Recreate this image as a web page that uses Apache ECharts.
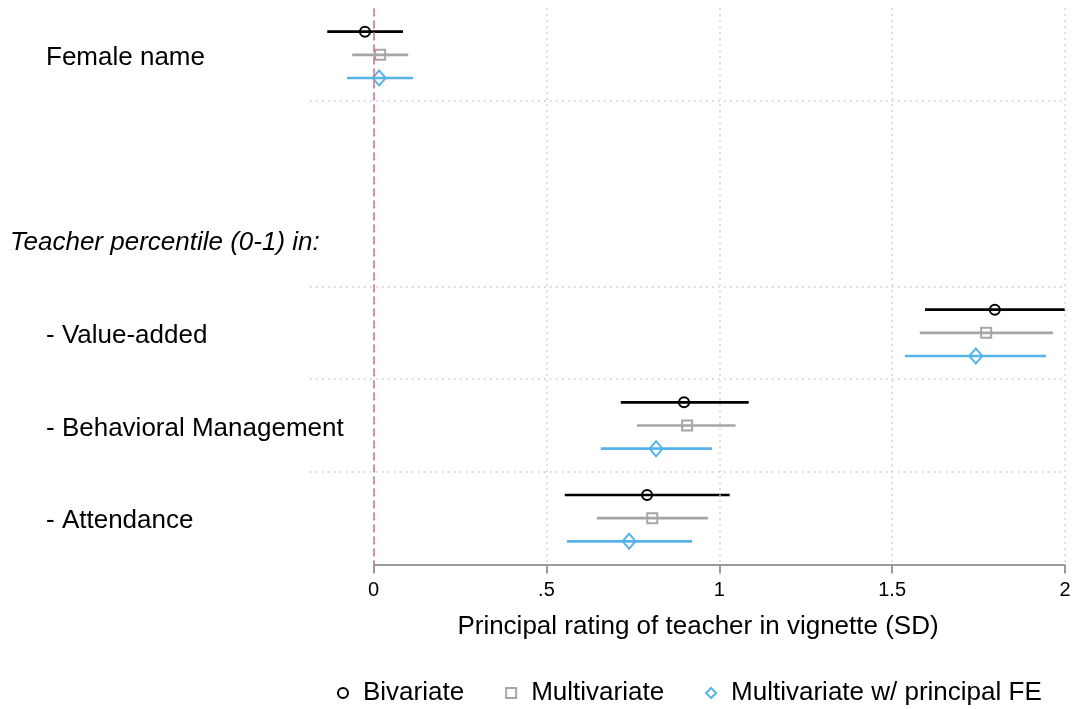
<!DOCTYPE html>
<html>
<head>
<meta charset="utf-8">
<script src="https://cdn.jsdelivr.net/npm/echarts@6/dist/echarts.min.js"></script>
<style>
  html, body { margin: 0; padding: 0; background: #fff; }
  #main { width: 1078px; height: 709px; }
</style>
</head>
<body>
<div id="main"></div>
<script>
// row labels, top to bottom (row 2 is a group header)
const rowLabels = ['Female name', '', 'Teacher percentile (0-1) in:', '- Value-added', '- Behavioral Management', '- Attendance'];
const headerRow = 2;
// rows that carry coefficients
const coefRows = [0, 3, 4, 5];
const xTicks = [0, 0.5, 1, 1.5, 2];
const gridRows = [1, 3, 4, 5];
const seriesNames = ['Bivariate', 'Multivariate', 'Multivariate w/ principal FE'];

// estimates and 95% CI, same order as coefRows
const biPoint = [-0.025, 1.797, 0.898, 0.791];
const biLow   = [-0.134, 1.595, 0.715, 0.553];
const biHigh  = [ 0.085, 2.000, 1.085, 1.030];

const mvPoint = [ 0.019, 1.772, 0.907, 0.806];
const mvLow   = [-0.062, 1.580, 0.762, 0.646];
const mvHigh  = [ 0.100, 1.965, 1.047, 0.967];

const fePoint = [ 0.016, 1.742, 0.817, 0.739];
const feLow   = [-0.077, 1.537, 0.657, 0.559];
const feHigh  = [ 0.114, 1.945, 0.979, 0.921];

let myChart = echarts.init(document.getElementById('main'));

const models = [
  { name: seriesNames[0], point: biPoint, low: biLow, high: biHigh, color: '#000000', symbol: 'circle', size: 10 },
  { name: seriesNames[1], point: mvPoint, low: mvLow, high: mvHigh, color: '#a6a6a6', symbol: 'rect', size: 10 },
  { name: seriesNames[2], point: fePoint, low: feLow, high: feHigh, color: '#56b4e9', symbol: 'diamond', size: [13, 15] }
];

// y position on the hidden value axis: row centre plus a small offset per model
function rowY(i, k) {
  return coefRows[i] + 0.5 + (k - 1) * 0.25;
}

const dotted = { color: '#c8c8c8', type: [1.5, 4.5], width: 1.5 };

let series = [];

// grid lines, zero line and the axis line (only spans 0..2)
series.push({
  type: 'scatter',
  xAxisIndex: 0,
  yAxisIndex: 1,
  data: [],
  silent: true,
  markLine: {
    silent: true,
    symbol: 'none',
    label: { show: false },
    animation: false,
    data: [].concat(
      xTicks.map(v => ({ xAxis: v, lineStyle: dotted })),
      gridRows.map(v => ({ yAxis: v, lineStyle: dotted })),
      [{ xAxis: 0, lineStyle: { color: '#d06ca0', type: [8, 4], width: 1.5 } }],
      [[{ coord: [xTicks[0], 6], lineStyle: { color: '#9a9a9a', type: 'solid', width: 2 } },
        { coord: [xTicks[xTicks.length - 1], 6] }]]
    )
  }
});

// CI lines
models.forEach((m, k) => {
  series.push({
    type: 'custom',
    xAxisIndex: 0,
    yAxisIndex: 1,
    silent: true,
    z: 3,
    encode: { x: [0, 1], y: 2 },
    data: m.low.map((lo, i) => [lo, m.high[i], rowY(i, k)]),
    renderItem: function (params, api) {
      let a = api.coord([api.value(0), api.value(2)]);
      let b = api.coord([api.value(1), api.value(2)]);
      return {
        type: 'line',
        shape: { x1: a[0], y1: a[1], x2: b[0], y2: b[1] },
        style: { stroke: m.color, lineWidth: 2.6 }
      };
    }
  });
});

// point estimates
models.forEach((m, k) => {
  series.push({
    name: m.name,
    type: 'scatter',
    xAxisIndex: 0,
    yAxisIndex: 1,
    z: 4,
    symbol: m.symbol,
    symbolSize: m.size,
    symbolKeepAspect: true,
    itemStyle: { color: 'rgba(255,255,255,0)', borderColor: m.color, borderWidth: 2, opacity: 1 },
    data: m.point.map((p, i) => [p, rowY(i, k)])
  });
});

let option = {
  animation: false,
  textStyle: { fontFamily: 'Liberation Sans', color: '#000' },
  grid: { left: 310, right: 13, top: 8.5, bottom: 144.5, containLabel: false },
  xAxis: {
    type: 'value',
    position: 'bottom',
    min: -0.184,
    max: 2,
    name: 'Principal rating of teacher in vignette (SD)',
    nameLocation: 'middle',
    nameGap: 49,
    nameTextStyle: { fontSize: 26, color: '#000', padding: [0, 0, 0, 21] },
    axisLine: { show: false, onZero: false },
    axisTick: { show: true, customValues: xTicks, length: 9, lineStyle: { color: '#9a9a9a', width: 2 } },
    axisLabel: {
      customValues: xTicks,
      fontSize: 20,
      color: '#000',
      margin: 16,
      formatter: v => String(v).replace(/^0\./, '.')
    },
    splitLine: { show: false }
  },
  yAxis: [
    {
      type: 'category',
      inverse: true,
      data: rowLabels,
      axisLine: { show: false },
      axisTick: { show: false },
      splitLine: { show: false },
      axisLabel: {
        interval: 0,
        margin: 300,
        align: 'left',
        formatter: (v, i) => i === headerRow ? '{h|' + v + '}' : '{n|' + v + '}',
        rich: {
          h: { fontSize: 26, fontStyle: 'italic', color: '#000', fontFamily: 'Liberation Sans', padding: [5, 0, 0, 0] },
          n: { fontSize: 26, color: '#000', fontFamily: 'Liberation Sans', padding: [6, 0, 0, 36] }
        }
      }
    },
    {
      type: 'value',
      inverse: true,
      min: 0,
      max: 6,
      show: false
    }
  ],
  legend: {
    data: seriesNames,
    left: 332,
    top: 675,
    itemWidth: 10,
    itemHeight: 10,
    itemGap: 41,
    textStyle: { fontSize: 26, color: '#000', padding: [0, 0, 0, 10] }
  },
  series: series
};

myChart.setOption(option);
</script>
</body>
</html>
